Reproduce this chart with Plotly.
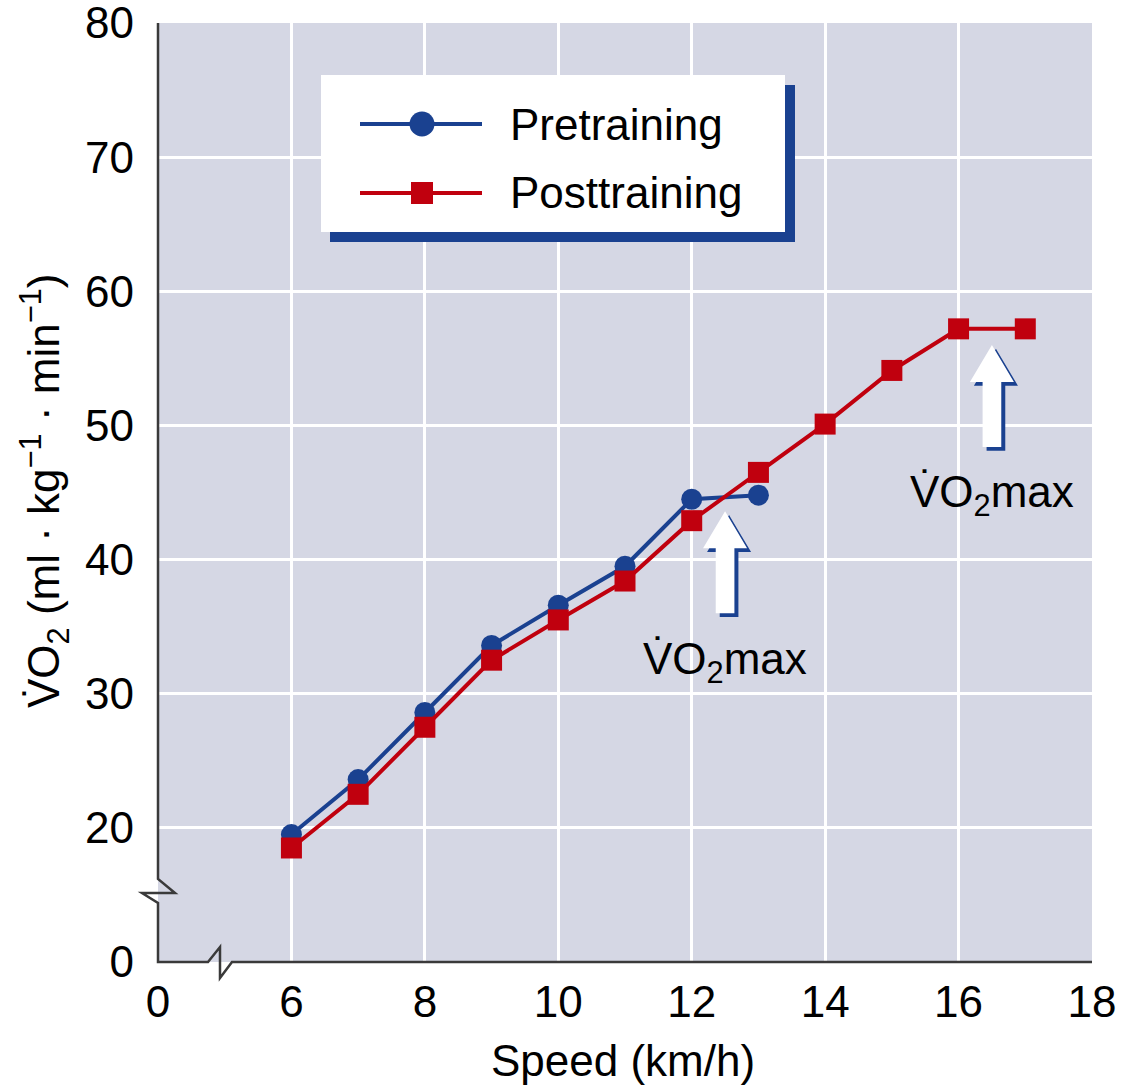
import plotly.graph_objects as go

# ---------------- data ----------------
speed_pre = [6, 7, 8, 9, 10, 11, 12, 13]
vo2_pre = [19.5, 23.6, 28.6, 33.6, 36.6, 39.5, 44.5, 44.8]

speed_post = [6, 7, 8, 9, 10, 11, 12, 13, 14, 15, 16, 17]
vo2_post = [18.5, 22.5, 27.5, 32.5, 35.5, 38.4, 42.9, 46.5, 50.1, 54.1, 57.2, 57.2]

x_tickvals = [4, 6, 8, 10, 12, 14, 16, 18]
x_ticktext = ["0", "6", "8", "10", "12", "14", "16", "18"]
y_tickvals = [10, 20, 30, 40, 50, 60, 70, 80]
y_ticktext = ["0", "20", "30", "40", "50", "60", "70", "80"]

series_names = ["Pretraining", "Posttraining"]
vo2max_label = "V\u0307O<sub>2</sub>max"

# ---------------- style ----------------
BLUE = "#1a4190"
RED = "#c0000e"
BG = "#d5d7e4"
AXIS = "#3a3a3a"
FONT = "Liberation Sans, Arial, Helvetica, sans-serif"
FS = 44

W, H = 1122, 1086
ML, MR, MT, MB = 158, 30, 23, 124
PW, PH = W - ML - MR, H - MT - MB


def P(px, py):
    """pixel -> paper coordinates"""
    return (px - ML) / PW, (H - MB - py) / PH


fig = go.Figure()

fig.add_trace(go.Scatter(
    x=speed_pre, y=vo2_pre, mode="lines+markers", name=series_names[0],
    line=dict(color=BLUE, width=4),
    marker=dict(symbol="circle", size=21, color=BLUE),
    showlegend=False, cliponaxis=False))
fig.add_trace(go.Scatter(
    x=speed_post, y=vo2_post, mode="lines+markers", name=series_names[1],
    line=dict(color=RED, width=4),
    marker=dict(symbol="square", size=21, color=RED),
    showlegend=False, cliponaxis=False))

shapes = []

# ---- axis lines with break marks (paper coords) ----
ypts = [(158, 23), (158, 879), (175, 893), (142, 893), (158, 903), (158, 962),
        (208, 962), (220, 947), (220, 978), (232, 962), (1092, 962)]
path = ""
for i, (px, py) in enumerate(ypts):
    xp, yp = P(px, py)
    path += ("M" if i == 0 else "L") + f"{xp:.5f},{yp:.5f} "
shapes.append(dict(type="path", xref="paper", yref="paper", path=path,
                   line=dict(color=AXIS, width=2.5), layer="above"))

# ---- arrows pointing at VO2max ----
def arrow_path(xc, ytip, dx=0.0, dy=0.0):
    head_len, head_hw, shaft_hw, length = 2.76, 0.33, 0.14, 7.6
    pts = [(xc, ytip), (xc + head_hw, ytip - head_len), (xc + shaft_hw, ytip - head_len),
           (xc + shaft_hw, ytip - length), (xc - shaft_hw, ytip - length),
           (xc - shaft_hw, ytip - head_len), (xc - head_hw, ytip - head_len)]
    s = ""
    for i, (a, b) in enumerate(pts):
        s += ("M" if i == 0 else "L") + f"{a + dx:.4f},{b + dy:.4f} "
    return s + "Z"

arrow_specs = [
    ((speed_pre[-2] + speed_pre[-1]) / 2, max(vo2_pre) - 1.2),
    ((speed_post[-2] + speed_post[-1]) / 2, max(vo2_post) - 1.2),
]
for xc, ytip in arrow_specs:
    shapes.append(dict(type="path", xref="x", yref="y", path=arrow_path(xc, ytip, 0.06, -0.28),
                       fillcolor=BLUE, line=dict(width=0), layer="above"))
    shapes.append(dict(type="path", xref="x", yref="y", path=arrow_path(xc, ytip),
                       fillcolor="white", line=dict(width=0), layer="above"))

# ---- legend box with shadow ----
x0, y0 = P(330, 85); x1, y1 = P(795, 242)
shapes.append(dict(type="rect", xref="paper", yref="paper", x0=x0, y0=y0, x1=x1, y1=y1,
                   fillcolor=BLUE, line=dict(width=0), layer="above"))
x0, y0 = P(321, 75); x1, y1 = P(785, 232)
shapes.append(dict(type="rect", xref="paper", yref="paper", x0=x0, y0=y0, x1=x1, y1=y1,
                   fillcolor="white", line=dict(width=0), layer="above"))

annotations = []
for name, color, py, sym in [(series_names[0], BLUE, 124, "circle"), (series_names[1], RED, 193, "square")]:
    a0, b0 = P(360, py); a1, _ = P(482, py)
    shapes.append(dict(type="line", xref="paper", yref="paper", x0=a0, y0=b0, x1=a1, y1=b0,
                       line=dict(color=color, width=4), layer="above"))
    r = 12.5 if sym == "circle" else 11
    c0, d0 = P(422 - r, py + r); c1, d1 = P(422 + r, py - r)
    shapes.append(dict(type="circle" if sym == "circle" else "rect", xref="paper", yref="paper",
                       x0=c0, y0=d0, x1=c1, y1=d1, fillcolor=color, line=dict(width=0), layer="above"))
    tx, ty = P(508, py)
    annotations.append(dict(xref="paper", yref="paper", x=tx, y=ty, text=name, showarrow=False,
                            xanchor="left", yanchor="middle", font=dict(size=FS, color="black", family=FONT)))

# ---- VO2max labels ----
for xc, ytip in arrow_specs:
    annotations.append(dict(xref="x", yref="y", x=xc, y=ytip - 11.2, text=vo2max_label, showarrow=False,
                            xanchor="center", yanchor="middle", font=dict(size=FS, color="black", family=FONT)))

# ---- axis titles ----
tx, ty = P(623, 1060)
annotations.append(dict(xref="paper", yref="paper", x=tx, y=ty, text="Speed (km/h)", showarrow=False,
                        xanchor="center", yanchor="middle", font=dict(size=FS, color="black", family=FONT)))
tx, ty = P(44, 491)
annotations.append(dict(xref="paper", yref="paper", x=tx, y=ty,
                        text="V\u0307O<sub>2</sub> (ml · kg<sup>\u22121</sup> · min<sup>\u22121</sup>)",
                        showarrow=False, textangle=-90, xanchor="center", yanchor="middle",
                        font=dict(size=FS, color="black", family=FONT)))

fig.update_layout(
    width=W, height=H,
    margin=dict(l=ML, r=MR, t=MT, b=MB, pad=0, autoexpand=False),
    paper_bgcolor="white", plot_bgcolor=BG,
    font=dict(family=FONT, size=FS, color="black"),
    shapes=shapes, annotations=annotations,
    showlegend=False,
)
fig.update_xaxes(range=[4, 18], tickvals=x_tickvals, ticktext=x_ticktext, automargin=False,
                 showgrid=True, gridcolor="white", gridwidth=3, zeroline=False, showline=False,
                 ticks="", ticklabelstandoff=10, ticklabeloverflow="allow", tickfont=dict(size=FS))
fig.update_yaxes(range=[10, 80], tickvals=y_tickvals, ticktext=y_ticktext, automargin=False,
                 showgrid=True, gridcolor="white", gridwidth=3, zeroline=False, showline=False,
                 ticks="", ticklabelstandoff=23, ticklabeloverflow="allow", tickfont=dict(size=FS))

fig.write_html("out.html", config={"displayModeBar": False},
               post_script="document.body.style.margin='0';document.body.style.overflow='hidden';")
